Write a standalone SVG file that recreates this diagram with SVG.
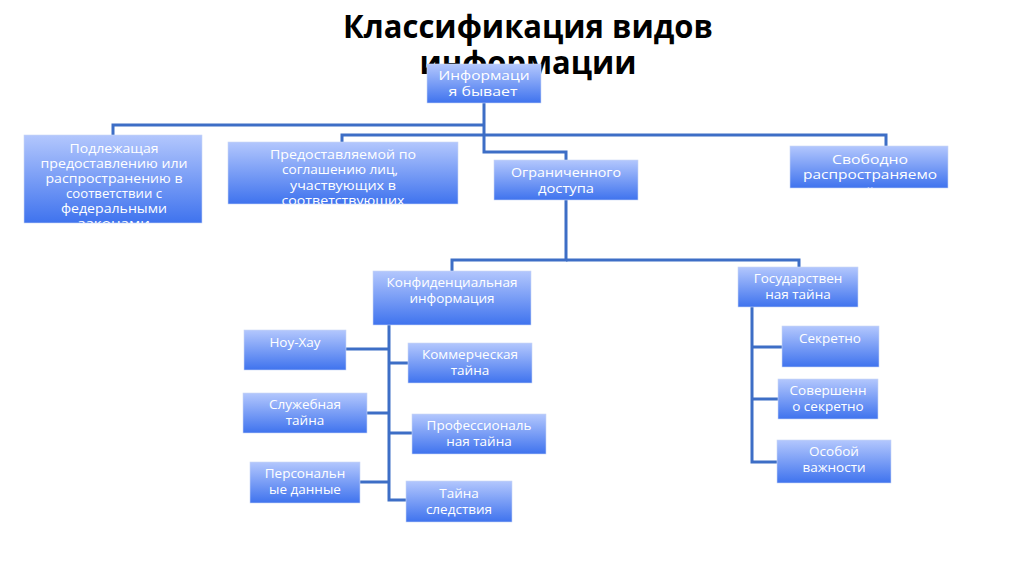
<svg xmlns="http://www.w3.org/2000/svg" width="1024" height="576" viewBox="0 0 1024 576">
<defs>
<linearGradient id="g" x1="0" y1="0" x2="0" y2="1">
<stop offset="0" stop-color="#b3c7fd"/>
<stop offset="1" stop-color="#3f73ee"/>
</linearGradient>
<clipPath id="cA"><rect x="24" y="135" width="178" height="88"/></clipPath>
<clipPath id="cB"><rect x="228" y="142" width="230" height="62"/></clipPath>
<clipPath id="cD"><rect x="790" y="146" width="158" height="42"/></clipPath>
</defs>
<style>
.box{fill:url(#g);stroke:#c9d6f5;stroke-width:0.6}
.t{font-family:"Open Sans","DejaVu Sans",sans-serif;font-size:13.5px;fill:#ffffff;text-anchor:middle}
.tn{font-family:"Open Sans","DejaVu Sans",sans-serif;font-size:13px;fill:#ffffff;text-anchor:middle}
.title{font-family:"Open Sans","DejaVu Sans",sans-serif;font-weight:bold;font-size:32px;fill:#000000;text-anchor:middle}
.c{fill:none;stroke:#3d6ec6;stroke-width:3}
</style>
<rect width="1024" height="576" fill="#ffffff"/>
<g id="title">
<text class="title" x="528" y="38" textLength="370" lengthAdjust="spacingAndGlyphs">Классификация видов</text>
<text class="title" x="528" y="74" textLength="217" lengthAdjust="spacingAndGlyphs">информации</text>
</g>
<g id="connectors">
<path class="c" d="M484 103V152H566V160"/>
<path class="c" d="M484 125H113V135"/>
<path class="c" d="M342 142V135H886V146"/>
<path class="c" d="M566 200V260H452V271"/>
<path class="c" d="M566 260H799V267"/>
<path class="c" d="M389 325V500H406"/>
<path class="c" d="M346 349H389M367 413H389M359 482H389M389 363H408M389 433H412"/>
<path class="c" d="M752 307V462H777M752 347H782M752 399H778"/>
</g>
<g id="root">
<rect class="box" x="427" y="64" width="114" height="39"/>
<text class="tn" x="484" y="80" textLength="91" lengthAdjust="spacingAndGlyphs" font-size="14">Информаци</text>
<text class="tn" x="483" y="96" textLength="69" lengthAdjust="spacingAndGlyphs" font-size="14">я бывает</text>
</g>
<g id="n-podl">
<rect class="box" x="24" y="135" width="178" height="88"/>
<g clip-path="url(#cA)">
<text class="tn" x="114" y="152.5" textLength="89" lengthAdjust="spacingAndGlyphs">Подлежащая</text>
<text class="tn" x="114" y="167.5" textLength="147" lengthAdjust="spacingAndGlyphs">предоставлению или</text>
<text class="tn" x="114" y="182.5" textLength="137" lengthAdjust="spacingAndGlyphs">распространению в</text>
<text class="tn" x="114" y="197.5" textLength="96" lengthAdjust="spacingAndGlyphs">соответствии с</text>
<text class="tn" x="114" y="212.5" textLength="106" lengthAdjust="spacingAndGlyphs">федеральными</text>
<text class="tn" x="114" y="227.5" textLength="72" lengthAdjust="spacingAndGlyphs">законами</text>
</g>
</g>
<g id="n-pred">
<rect class="box" x="228" y="142" width="230" height="62"/>
<g clip-path="url(#cB)">
<text class="tn" x="343" y="158.5" textLength="146" lengthAdjust="spacingAndGlyphs">Предоставляемой по</text>
<text class="tn" x="340" y="174" textLength="116" lengthAdjust="spacingAndGlyphs">соглашению лиц,</text>
<text class="tn" x="343" y="189.5" textLength="106" lengthAdjust="spacingAndGlyphs">участвующих в</text>
<text class="tn" x="343" y="205" textLength="123" lengthAdjust="spacingAndGlyphs">соответствующих</text>
</g>
</g>
<g id="n-ogr">
<rect class="box" x="494" y="160" width="144" height="40"/>
<text class="tn" x="566" y="177" textLength="110" lengthAdjust="spacingAndGlyphs" font-size="14">Ограниченного</text>
<text class="tn" x="566" y="193" textLength="56" lengthAdjust="spacingAndGlyphs" font-size="14">доступа</text>
</g>
<g id="n-svob">
<rect class="box" x="790" y="146" width="158" height="42"/>
<g clip-path="url(#cD)">
<text class="tn" x="870" y="164" textLength="76" lengthAdjust="spacingAndGlyphs" font-size="14.5">Свободно</text>
<text class="tn" x="870" y="178.5" textLength="134" lengthAdjust="spacingAndGlyphs" font-size="14.5">распространяемо</text>
<text class="tn" x="870" y="197" font-size="14.5">й</text>
</g>
</g>
<g id="n-konf">
<rect class="box" x="373" y="271" width="158" height="54"/>
<text class="t" x="452" y="287">Конфиденциальная</text>
<text class="t" x="452" y="303">информация</text>
</g>
<g id="n-gos">
<rect class="box" x="738" y="267" width="120" height="40"/>
<text class="t" x="798" y="283">Государствен</text>
<text class="t" x="798" y="299">ная тайна</text>
</g>
<g id="n-nou">
<rect class="box" x="244" y="330" width="102" height="40"/>
<text class="t" x="295" y="347">Ноу-Хау</text>
</g>
<g id="n-kom">
<rect class="box" x="408" y="343" width="124" height="40"/>
<text class="t" x="470" y="359">Коммерческая</text>
<text class="t" x="470" y="375">тайна</text>
</g>
<g id="n-sluzh">
<rect class="box" x="243" y="393" width="124" height="40"/>
<text class="t" x="305" y="409">Служебная</text>
<text class="t" x="305" y="425">тайна</text>
</g>
<g id="n-prof">
<rect class="box" x="412" y="414" width="134" height="40"/>
<text class="t" x="479" y="430">Профессиональ</text>
<text class="t" x="479" y="446">ная тайна</text>
</g>
<g id="n-pers">
<rect class="box" x="250" y="462" width="110" height="41"/>
<text class="t" x="305" y="478">Персональн</text>
<text class="t" x="305" y="494">ые данные</text>
</g>
<g id="n-sled">
<rect class="box" x="406" y="481" width="106" height="41"/>
<text class="t" x="459" y="498">Тайна</text>
<text class="t" x="459" y="514">следствия</text>
</g>
<g id="n-sekr">
<rect class="box" x="782" y="326" width="97" height="41"/>
<text class="t" x="830" y="343">Секретно</text>
</g>
<g id="n-sov">
<rect class="box" x="778" y="379" width="100" height="40"/>
<text class="t" x="828" y="395">Совершенн</text>
<text class="t" x="828" y="411">о секретно</text>
</g>
<g id="n-osob">
<rect class="box" x="777" y="440" width="114" height="43"/>
<text class="t" x="834" y="456">Особой</text>
<text class="t" x="834" y="472">важности</text>
</g>
</svg>
